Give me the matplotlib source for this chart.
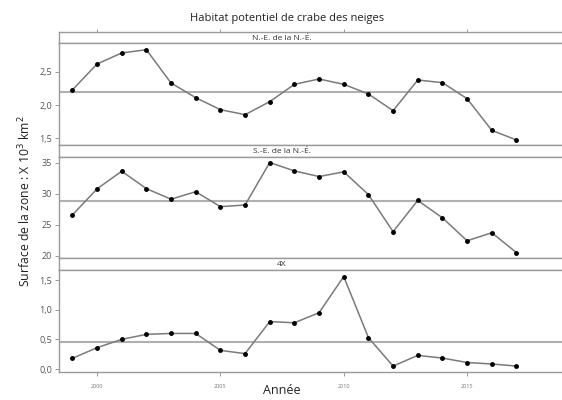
import matplotlib
matplotlib.use("Agg")
import matplotlib.pyplot as plt
from matplotlib.ticker import FuncFormatter

plt.rcParams['font.family'] = ['Open Sans', 'DejaVu Sans']

years = list(range(1999, 2018))
panel_titles = ["N.-E. de la N.-É.", "S.-E. de la N.-É.", "4X"]
ne_values = [2.225, 2.615, 2.78, 2.83, 2.33, 2.11, 1.93, 1.855, 2.05, 2.31,
             2.39, 2.31, 2.165, 1.915, 2.375, 2.335, 2.095, 1.62, 1.475]
se_values = [26.55, 30.75, 33.6, 30.8, 29.1, 30.3, 27.9, 28.16, 35.0, 33.65,
             32.74, 33.5, 29.84, 23.87, 28.9, 26.1, 22.4, 23.7, 20.5]
x4_values = [0.18, 0.36, 0.50, 0.585, 0.60, 0.60, 0.315, 0.26, 0.80, 0.78,
             0.95, 1.56, 0.53, 0.05, 0.23, 0.185, 0.11, 0.085, 0.05]
ref_lines = [2.19, 28.8, 0.46]
yticks = [[1.5, 2.0, 2.5], [20, 25, 30, 35], [0.0, 0.5, 1.0, 1.5]]
ylims = [(1.40, 2.93), (19.63, 35.97), (-0.05, 1.67)]
xticks = [2000, 2005, 2010, 2015]
series = [ne_values, se_values, x4_values]

W, H = 562, 400
fig = plt.figure(figsize=(W / 100, H / 100), dpi=100)

left_px, right_px = 59, 570
# (strip_top, strip_bottom, plot_bottom) in pixels from top
layout = [(32, 43, 145), (145, 156.5, 258), (258, 270, 372)]
border = "#9a9a9a"
tickc = "#8a8a8a"

def fmt1(v, pos):
    return f"{v:.1f}".replace(".", ",")

def fmt0(v, pos):
    return f"{v:.0f}"

xl = (1998.46, 2019.17)
for i, (st, sb, pb) in enumerate(layout):
    # strip
    sax = fig.add_axes([left_px / W, 1 - sb / H, (right_px - left_px) / W, (sb - st) / H])
    sax.set_xlim(*xl)
    sax.set_yticks([])
    for s in sax.spines.values():
        s.set_color(border)
        s.set_linewidth(1.0)
    sax.text(0.436, 0.45, panel_titles[i], transform=sax.transAxes, ha="center",
             va="center", fontsize=6, color="#333333")
    if i == 0:
        sax.xaxis.tick_top()
        sax.set_xticks(xticks)
        sax.tick_params(axis="x", length=2, color=tickc, labeltop=False, width=0.6)
    else:
        sax.set_xticks([])
    # plot
    ax = fig.add_axes([left_px / W, 1 - pb / H, (right_px - left_px) / W, (pb - sb) / H])
    ax.set_xlim(*xl)
    ax.set_ylim(*ylims[i])
    ax.axhline(ref_lines[i], color="#b0b0b0", lw=1.5, zorder=1)
    ax.plot(years, series[i], color="#7a7a7a", lw=1.1, zorder=2)
    ax.plot(years, series[i], "o", color="black", ms=2.5, zorder=3)
    ax.set_yticks(yticks[i])
    ax.yaxis.set_major_formatter(FuncFormatter(fmt0 if i == 1 else fmt1))
    ax.tick_params(axis="y", length=3, color=tickc, labelsize=6.5, labelcolor="#555555", width=0.6, pad=2)
    for s in ax.spines.values():
        s.set_color(border)
        s.set_linewidth(1.0)
    ax.spines["right"].set_visible(False)
    if i == 2:
        ax.set_xticks(xticks)
        ax.tick_params(axis="x", length=3, color=tickc, labelsize=4, labelcolor="#777777", width=0.6, pad=6)
    else:
        ax.set_xticks([])

fig.text(287 / W, 1 - 18 / H, "Habitat potentiel de crabe des neiges", ha="center",
         va="center", fontsize=8, color="#222222")
fig.text(282 / W, 1 - 391 / H, "Année", ha="center", va="center",
         fontsize=9, color="#222222")
fig.text(25 / W, 1 - 201 / H, "Surface de la zone : X 10$^3$ km$^2$", rotation=90,
         ha="center", va="center", fontsize=8.8, color="#222222")

fig.savefig("out.png", dpi=100)
